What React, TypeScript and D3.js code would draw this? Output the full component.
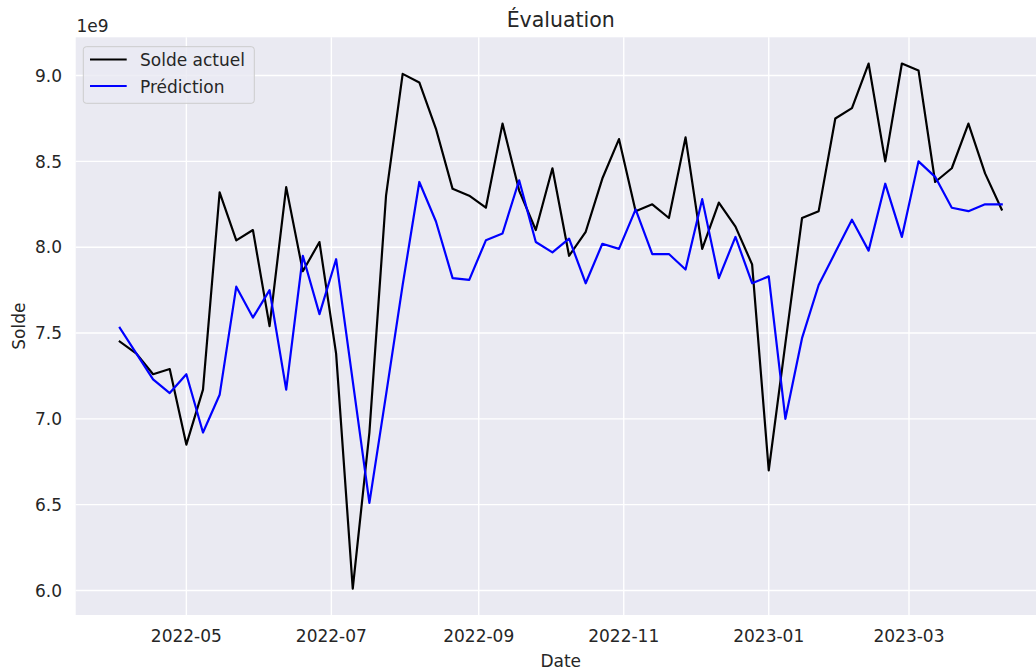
import React from "react";
import * as d3 from "d3";

// Weekly dates (Sundays)
const dates = [
  "2022-04-03", "2022-04-10", "2022-04-17", "2022-04-24", "2022-05-01", "2022-05-08",
  "2022-05-15", "2022-05-22", "2022-05-29", "2022-06-05", "2022-06-12", "2022-06-19",
  "2022-06-26", "2022-07-03", "2022-07-10", "2022-07-17", "2022-07-24", "2022-07-31",
  "2022-08-07", "2022-08-14", "2022-08-21", "2022-08-28", "2022-09-04", "2022-09-11",
  "2022-09-18", "2022-09-25", "2022-10-02", "2022-10-09", "2022-10-16", "2022-10-23",
  "2022-10-30", "2022-11-06", "2022-11-13", "2022-11-20", "2022-11-27", "2022-12-04",
  "2022-12-11", "2022-12-18", "2022-12-25", "2023-01-01", "2023-01-08", "2023-01-15",
  "2023-01-22", "2023-01-29", "2023-02-05", "2023-02-12", "2023-02-19", "2023-02-26",
  "2023-03-05", "2023-03-12", "2023-03-19", "2023-03-26", "2023-04-02", "2023-04-09",
];

// values in units of 1e9
const soldeActuel = [
  7.45, 7.38, 7.26, 7.29, 6.85, 7.17, 8.32, 8.04, 8.10, 7.54, 8.35, 7.86,
  8.03, 7.38, 6.01, 6.92, 8.30, 9.01, 8.96, 8.69, 8.34, 8.30, 8.23, 8.72,
  8.33, 8.10, 8.46, 7.95, 8.09, 8.40, 8.63, 8.21, 8.25, 8.17, 8.64, 7.99,
  8.26, 8.12, 7.90, 6.70, 7.44, 8.17, 8.21, 8.75, 8.81, 9.07, 8.50, 9.07,
  9.03, 8.38, 8.46, 8.72, 8.43, 8.22,
];

const prediction = [
  7.53, 7.38, 7.23, 7.15, 7.26, 6.92, 7.14, 7.77, 7.59, 7.75, 7.17, 7.95,
  7.61, 7.93, 7.22, 6.51, 7.14, 7.78, 8.38, 8.15, 7.82, 7.81, 8.04, 8.08,
  8.39, 8.03, 7.97, 8.05, 7.79, 8.02, 7.99, 8.22, 7.96, 7.96, 7.87, 8.28,
  7.82, 8.06, 7.79, 7.83, 7.00, 7.47, 7.78, 7.97, 8.16, 7.98, 8.37, 8.06,
  8.50, 8.41, 8.23, 8.21, 8.25, 8.25,
];

const yTicks = [6.0, 6.5, 7.0, 7.5, 8.0, 8.5, 9.0];

const W = 1036;
const H = 672;
const left = 75.7;
const right = 1045.8;
const top = 37.3;
const bottom = 615;

const textColor = "#262626";
const font = "'DejaVu Sans', sans-serif";

export default function App() {
  const parse = d3.timeParse("%Y-%m-%d");
  const xs = dates.map((d) => parse(d)!);

  // matplotlib style 5% margins
  const [x0, x1] = d3.extent(xs) as [Date, Date];
  const padX = (x1.getTime() - x0.getTime()) * 0.05;
  const x = d3
    .scaleTime()
    .domain([new Date(x0.getTime() - padX), new Date(x1.getTime() + padX)])
    .range([left, right]);

  const all = soldeActuel.concat(prediction);
  const lo = d3.min(all)!;
  const hi = d3.max(all)!;
  const padY = (hi - lo) * 0.05;
  const y = d3.scaleLinear().domain([lo - padY, hi + padY]).range([bottom, top]);

  const xTicks = x.ticks(d3.timeMonth.every(2)!);
  const fmt = d3.timeFormat("%Y-%m");

  const line = d3
    .line<number>()
    .x((_, i) => x(xs[i]))
    .y((v) => y(v));

  const cx = (left + right) / 2;

  return (
    <svg
      width={W}
      height={H}
      style={{ position: "absolute", left: 0, top: 0, background: "#fff" }}
      fontFamily={font}
    >
      <defs>
        <clipPath id="plot">
          <rect x={left} y={top} width={right - left} height={bottom - top} />
        </clipPath>
      </defs>

      <rect x={left} y={top} width={right - left} height={bottom - top} fill="#EAEAF2" />

      {/* grid */}
      {xTicks.map((t, i) => (
        <line key={`gx${i}`} x1={x(t)} x2={x(t)} y1={top} y2={bottom} stroke="#fff" strokeWidth={1.4} />
      ))}
      {yTicks.map((t, i) => (
        <line key={`gy${i}`} x1={left} x2={right} y1={y(t)} y2={y(t)} stroke="#fff" strokeWidth={1.4} />
      ))}

      {/* series */}
      <g clipPath="url(#plot)" fill="none" strokeWidth={2.2} strokeLinejoin="round" strokeLinecap="square">
        <path d={line(soldeActuel)!} stroke="#000000" />
        <path d={line(prediction)!} stroke="#0000ff" />
      </g>

      {/* x tick labels */}
      {xTicks.map((t, i) => (
        <text key={`tx${i}`} x={x(t)} y={642} textAnchor="middle" fontSize={17} fill={textColor}>
          {fmt(t)}
        </text>
      ))}

      {/* y tick labels */}
      {yTicks.map((t, i) => (
        <text key={`ty${i}`} x={62} y={y(t)} dy="0.36em" textAnchor="end" fontSize={17} fill={textColor}>
          {t.toFixed(1)}
        </text>
      ))}

      <text x={76.5} y={32} fontSize={17} fill={textColor}>1e9</text>

      {/* title & labels */}
      <text x={cx} y={27} textAnchor="middle" fontSize={20.5} fill={textColor}>Évaluation</text>
      <text x={cx} y={667} textAnchor="middle" fontSize={17} fill={textColor}>Date</text>
      <text transform={`translate(25, ${(top + bottom) / 2}) rotate(-90)`} textAnchor="middle" fontSize={17} fill={textColor}>
        Solde
      </text>

      {/* legend */}
      <g>
        <rect x={83.3} y={46.7} width={171} height={56.6} rx={3} fill="#EAEAF2" fillOpacity={0.8} stroke="#cccccc" strokeWidth={1} />
        <line x1={90} x2={126.7} y1={59.5} y2={59.5} stroke="#000000" strokeWidth={2.2} />
        <line x1={90} x2={126.7} y1={86} y2={86} stroke="#0000ff" strokeWidth={2.2} />
        <text x={140} y={66} fontSize={17} fill={textColor}>Solde actuel</text>
        <text x={140} y={92.5} fontSize={17} fill={textColor}>Prédiction</text>
      </g>
    </svg>
  );
}
